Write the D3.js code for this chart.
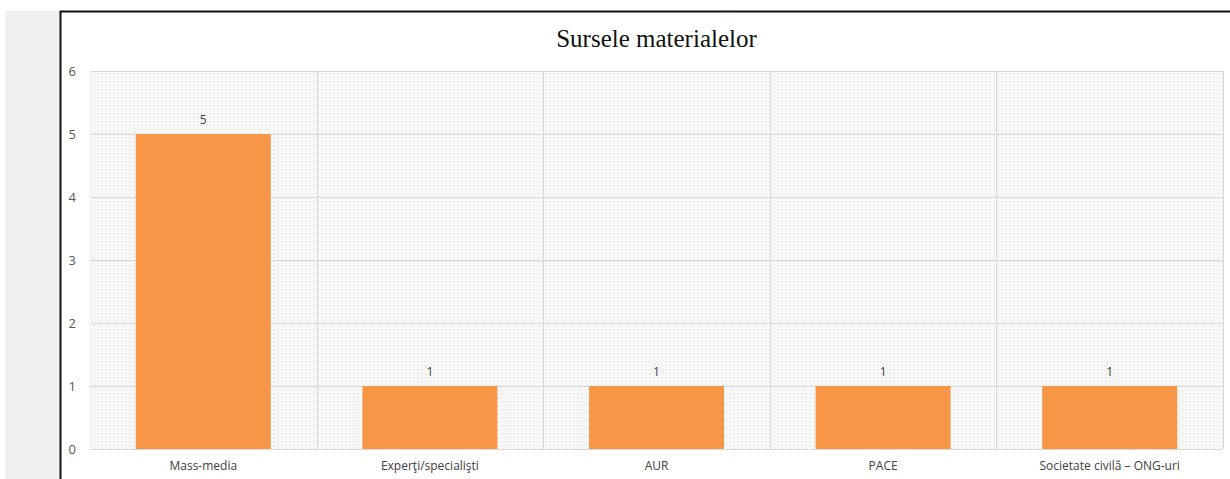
<!DOCTYPE html>
<html>
<head>
<meta charset="utf-8">
<script src="https://cdn.jsdelivr.net/npm/d3@7"></script>
<style>
  body { margin: 0; background: #fff; }
</style>
</head>
<body>
<div id="chart"></div>
<script>
// chart data
var categories = ["Mass-media", "Experţi/specialişti", "AUR", "PACE", "Societate civilă – ONG-uri"];
var values = [5, 1, 1, 1, 1];
var yTicks = [0, 1, 2, 3, 4, 5, 6];
var title = "Sursele materialelor";

var width = 1230,
    height = 479;

var margin = { top: 71, right: 7, bottom: 30, left: 90 };

var svg = d3.select("#chart")
    .append("svg")
    .attr("width", width)
    .attr("height", height);

// grey strip on the left and the black frame
svg.append("rect")
    .attr("x", 5).attr("y", 11)
    .attr("width", 55).attr("height", height - 11)
    .attr("fill", "#f0f0f0");

svg.append("path")
    .attr("d", "M60.5," + height + "V11.5H" + width)
    .attr("fill", "none")
    .attr("stroke", "#111")
    .attr("stroke-width", 2);

// hatch pattern for the plot background
var defs = svg.append("defs");
var pat = defs.append("pattern")
    .attr("id", "hatch")
    .attr("patternUnits", "userSpaceOnUse")
    .attr("width", 4)
    .attr("height", 4);
pat.append("rect").attr("width", 4).attr("height", 4).attr("fill", "#fff");
pat.append("path")
    .attr("d", "M-1,1 l2,2 M0,0 l4,4 M3,-1 l2,2")
    .attr("stroke", "#e8e8e8")
    .attr("stroke-width", 1);

var innerW = width - margin.left - margin.right,
    innerH = height - margin.top - margin.bottom;

var g = svg.append("g")
    .attr("transform", "translate(" + margin.left + "," + margin.top + ")");

var xBand = d3.scaleBand()
    .domain(categories)
    .range([0, innerW]);

var y = d3.scaleLinear()
    .domain([0, 6])
    .range([innerH, 0]);

g.append("rect")
    .attr("width", innerW)
    .attr("height", innerH)
    .attr("fill", "url(#hatch)");

// horizontal gridlines
g.selectAll(".hgrid")
    .data(yTicks)
    .enter().append("line")
    .attr("class", "hgrid")
    .attr("x1", 0).attr("x2", innerW)
    .attr("y1", function(d) { return Math.round(y(d)) + 0.5; })
    .attr("y2", function(d) { return Math.round(y(d)) + 0.5; })
    .attr("stroke", "#d9d9d9");

// vertical gridlines between categories
g.selectAll(".vgrid")
    .data(categories)
    .enter().append("line")
    .attr("class", "vgrid")
    .attr("x1", function(d) { return Math.round(xBand(d) + xBand.bandwidth()) + 0.5; })
    .attr("x2", function(d) { return Math.round(xBand(d) + xBand.bandwidth()) + 0.5; })
    .attr("y1", 0).attr("y2", innerH)
    .attr("stroke", "#d9d9d9");

// bars
g.selectAll(".bar")
    .data(values)
    .enter().append("rect")
    .attr("class", "bar")
    .attr("x", function(d, i) { return xBand(categories[i]) + (xBand.bandwidth() - 135) / 2; })
    .attr("width", 135)
    .attr("y", function(d) { return y(d); })
    .attr("height", function(d) { return innerH - y(d); })
    .attr("fill", "#f79646");

// value labels
g.selectAll(".vlabel")
    .data(values)
    .enter().append("text")
    .attr("class", "vlabel")
    .attr("x", function(d, i) { return xBand(categories[i]) + xBand.bandwidth() / 2; })
    .attr("y", function(d) { return y(d) - 10; })
    .attr("text-anchor", "middle")
    .attr("font-family", "'Open Sans', sans-serif")
    .attr("font-size", "12px")
    .attr("fill", "#404040")
    .text(function(d) { return d; });

// y axis labels
var yAxis = d3.axisLeft(y).tickValues(yTicks).tickFormat(d3.format("d")).tickSize(0).tickPadding(14);
g.append("g")
    .call(yAxis)
    .call(function(sel) { sel.select(".domain").remove(); })
    .selectAll("text")
    .attr("font-family", "'Open Sans', sans-serif")
    .attr("font-size", "13px")
    .attr("fill", "#595959");

// x axis labels
var xAxis = d3.axisBottom(xBand).tickSize(0).tickPadding(12);
g.append("g")
    .attr("transform", "translate(0," + innerH + ")")
    .call(xAxis)
    .call(function(sel) { sel.select(".domain").remove(); })
    .selectAll("text")
    .attr("font-family", "'Open Sans', sans-serif")
    .attr("font-size", "12px")
    .attr("fill", "#404040");

// title
svg.append("text")
    .attr("x", margin.left + innerW / 2)
    .attr("y", 47)
    .attr("text-anchor", "middle")
    .attr("font-family", "'Liberation Serif', serif")
    .attr("font-size", "25px")
    .attr("fill", "#111")
    .text(title);
</script>
</body>
</html>
